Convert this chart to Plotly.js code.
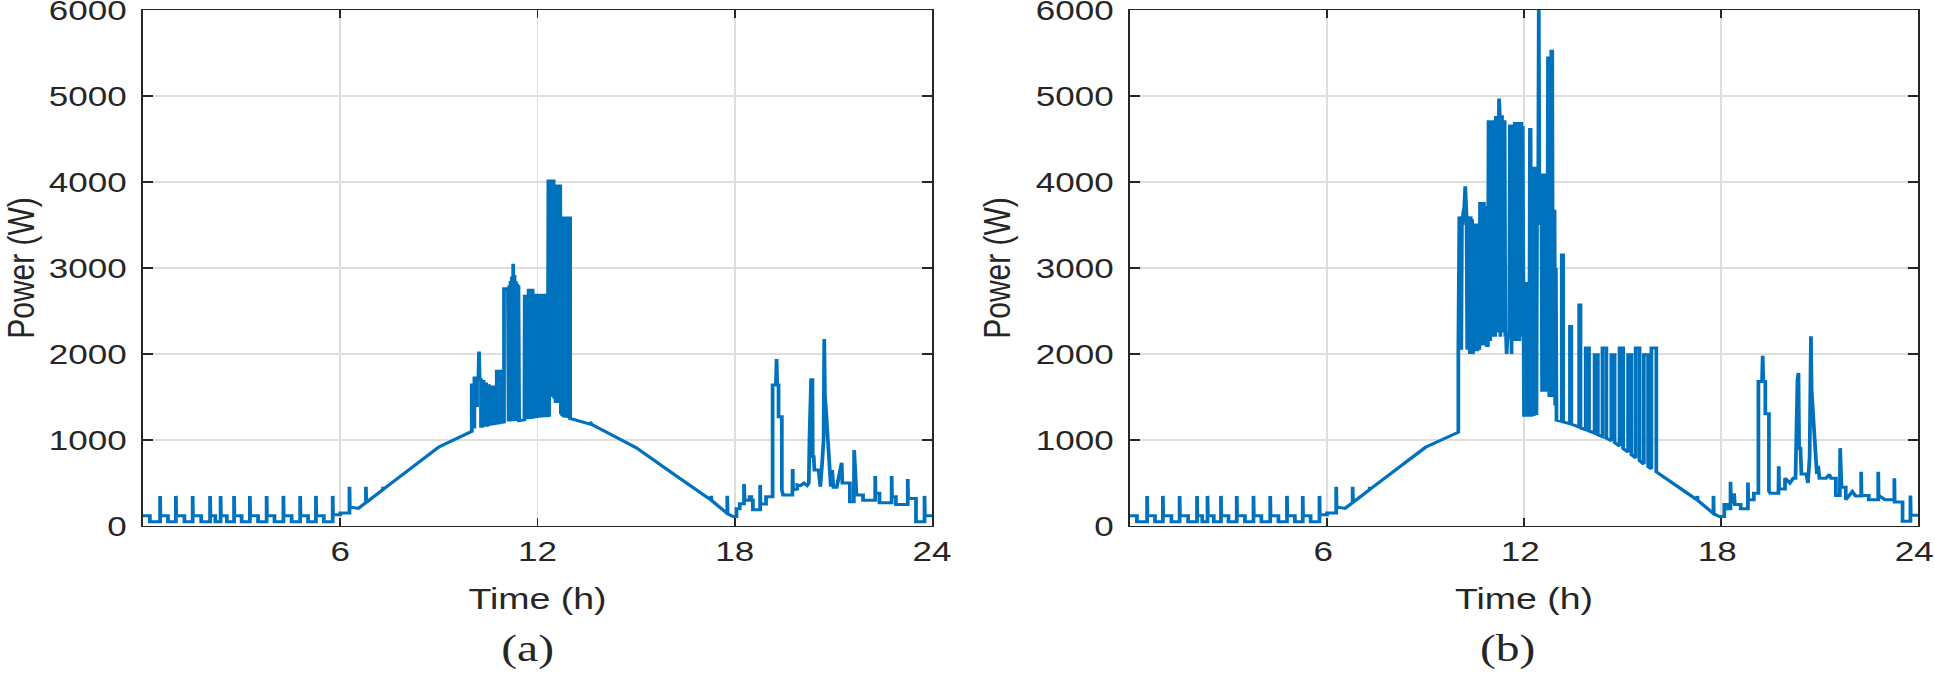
<!DOCTYPE html>
<html>
<head>
<meta charset="utf-8">
<script src="https://cdn.plot.ly/plotly-3.0.1.min.js"></script>
<style>
  html, body { margin: 0; padding: 0; background: #ffffff; overflow: hidden; }
  #chart { width: 1548px; height: 676px; transform: scaleX(1.25); transform-origin: 0 0; }
</style>
</head>
<body>
<div id="chart"></div>
<script>
// ---------------- data (time in hours, power in W) ----------------
const xTickVals = [6, 12, 18, 24];
const yTickVals = [0, 1000, 2000, 3000, 4000, 5000, 6000];
const panelCaptions = ["(a)", "(b)"];

// ----- panel (a) -----
const nightA = [[0,120],[0.21,120],[0.21,50],
  [0.52,50],[0.52,350],[0.53,120],[0.76,120],[0.76,50],
  [1.0,50],[1.0,350],[1.01,120],[1.26,120],[1.26,50],
  [1.51,50],[1.51,350],[1.52,120],[1.77,120],[1.77,50],
  [2.04,50],[2.04,350],[2.05,120],[2.2,120],[2.2,50],
  [2.36,50],[2.36,350],[2.37,120],[2.55,120],[2.55,50],
  [2.77,50],[2.77,350],[2.78,120],[3.0,120],[3.0,50],
  [3.25,50],[3.25,350],[3.26,120],[3.5,120],[3.5,50],
  [3.76,50],[3.76,350],[3.77,120],[4.0,120],[4.0,50],
  [4.27,50],[4.27,350],[4.28,120],[4.52,120],[4.52,50],
  [4.78,50],[4.78,350],[4.79,120],[5.02,120],[5.02,50],
  [5.26,50],[5.26,350],[5.27,120],[5.5,120],[5.5,50],
  [5.77,50],[5.77,350],[5.78,130],[6.0,130],[6.0,150],
  [6.28,150],[6.28,455],[6.29,220],[6.55,205]];
const morningA = [[6.78,272],[6.78,455],[6.79,275],[7.3,424],[7.3,455],[7.31,427],[9.0,920],[10.0,1100]];
const noonA = [[10.0,1640],[10.04,1640],[10.04,1150],[10.08,1150],[10.08,1720],[10.12,1720],[10.12,1400],
  [10.16,1400],[10.16,1700],[10.2,1700],[10.22,2030],[10.24,1700],[10.28,1700],[10.28,1160],[10.31,1160],
  [10.31,1680],[10.36,1680],[10.36,1170],[10.4,1170],[10.4,1650],[10.44,1650],[10.44,1170],[10.47,1170],
  [10.47,1630],[10.52,1630],[10.52,1180],[10.62,1185],[10.62,1615],[10.66,1615],[10.66,1190],[10.76,1195],
  [10.76,1800],[10.82,1800],[10.82,1200],[10.85,1200],[10.85,1800],[10.88,1800],[10.88,1205],[10.98,1210],
  [10.98,2760],[11.1,2760],[11.12,1215],[11.14,2800],[11.16,1215],[11.18,2850],[11.2,1218],[11.22,2900],
  [11.24,1218],[11.26,3050],[11.28,1220],[11.3,2920],[11.32,1220],[11.34,2850],[11.36,1222],[11.38,2820],
  [11.4,1222],[11.42,2800],[11.44,1225],[11.6,1235],
  [11.61,2690],[11.63,1240],[11.65,2690],[11.67,1240],[11.69,2690],[11.71,1242],[11.73,2760],[11.75,1245],
  [11.77,2760],[11.79,1245],[11.81,2760],[11.83,1248],[11.85,2760],[11.87,1250],[11.89,2700],[11.91,1252],
  [11.93,2700],[11.95,1255],[11.97,2700],[11.99,1258],[12.01,2700],[12.03,1260],[12.05,2700],[12.07,1262],
  [12.09,2700],[12.11,1262],[12.13,2700],[12.15,1264],[12.17,2700],[12.19,1265],[12.21,2700],[12.23,1265],
  [12.25,2700],[12.27,1265],[12.29,2700],[12.31,1268],[12.33,4030],[12.35,1270],[12.37,4030],[12.39,1500],
  [12.41,4030],[12.43,1500],[12.45,4030],[12.47,1500],[12.49,4030],[12.51,1480],[12.53,3970],[12.55,1430],
  [12.57,3970],[12.59,1430],[12.61,3970],[12.63,1430],[12.65,3970],[12.67,1430],[12.69,3970],[12.71,1300],
  [12.73,3550],[12.75,1280],[12.77,3600],[12.79,1265],[12.81,3600],[12.83,1262],[12.85,3600],[12.87,1260],
  [12.89,3600],[12.91,1258],[12.93,3600],[12.95,1256],[12.97,3600],[12.99,3600],[12.99,1250],[13.0,1250]];
const afternoonA = [[13.6,1185],[13.6,1210],[13.65,1180],[14.0,1110],[15.0,910],[16.0,640],[17.0,375],
  [17.28,300],[17.28,352],[17.29,298],[17.77,145],[17.77,352],[17.78,142],[17.95,110],[18.02,110]];
const eveningA = [[18.05,110],[18.05,200],[18.15,200],[18.15,260],[18.28,260],[18.28,488],[18.3,300],
  [18.45,300],[18.45,340],[18.5,340],[18.5,300],[18.55,300],[18.55,190],[18.77,190],[18.77,477],[18.78,256],
  [18.95,256],[18.95,340],[19.15,340],[19.15,1640],[19.25,1640],[19.27,1942],[19.29,1640],[19.33,1640],
  [19.33,1271],[19.43,1271],[19.43,419],[19.47,360],[19.75,360],[19.76,663],[19.77,420],[19.9,430],
  [19.9,480],[20.0,470],[20.1,500],[20.2,470],[20.25,500],[20.27,1000],[20.3,1650],[20.32,1700],[20.36,1700],
  [20.37,806],[20.4,806],[20.42,650],[20.55,650],[20.6,457],[20.65,700],[20.7,1000],[20.72,2175],[20.74,1523],
  [20.78,1310],[20.82,1080],[20.88,767],[20.92,457],[20.96,651],[21.0,450],[21.1,450],[21.25,736],[21.27,500],
  [21.5,500],[21.5,283],[21.62,283],[21.63,884],[21.67,574],[21.7,360],[21.9,360],[21.9,300],[22.27,300],
  [22.27,581],[22.28,380],[22.4,380],[22.4,270],[22.77,270],[22.77,581],[22.78,340],[22.9,340],[22.9,250],
  [23.26,250],[23.26,546],[23.27,320],[23.51,320],[23.51,50],[23.77,50],[23.77,350],[23.78,120],[24.0,120]];

// ----- panel (b) -----
const nightB = [[0,120],[0.21,120],[0.21,50],
  [0.52,50],[0.52,350],[0.53,120],[0.76,120],[0.76,50],
  [1.0,50],[1.0,350],[1.01,120],[1.26,120],[1.26,50],
  [1.51,50],[1.51,350],[1.52,120],[1.77,120],[1.77,50],
  [2.04,50],[2.04,350],[2.05,120],[2.2,120],[2.2,50],
  [2.36,50],[2.36,350],[2.37,120],[2.55,120],[2.55,50],
  [2.77,50],[2.77,350],[2.78,120],[3.0,120],[3.0,50],
  [3.25,50],[3.25,350],[3.26,120],[3.5,120],[3.5,50],
  [3.76,50],[3.76,350],[3.77,120],[4.0,120],[4.0,50],
  [4.27,50],[4.27,350],[4.28,120],[4.52,120],[4.52,50],
  [4.78,50],[4.78,350],[4.79,120],[5.02,120],[5.02,50],
  [5.26,50],[5.26,350],[5.27,120],[5.5,120],[5.5,50],
  [5.77,50],[5.77,350],[5.78,130],[6.0,130],[6.0,150],
  [6.28,150],[6.28,455],[6.29,220],[6.55,205]];
const morningB = [[6.78,272],[6.78,455],[6.79,275],[7.3,424],[7.3,455],[7.31,427],[9.0,915],[10.0,1090]];
const noonB = [[10.0,2030],[10.01,3560],[10.03,3600],[10.05,3300],[10.07,3600],[10.09,2050],[10.11,3600],
  [10.13,3500],[10.15,3650],[10.18,3700],[10.21,3950],[10.23,3650],[10.25,3600],[10.27,2050],[10.29,3600],
  [10.31,3550],[10.33,3600],[10.35,2000],[10.37,3600],[10.39,3550],[10.42,3550],[10.44,2000],[10.46,2050],
  [10.48,3500],[10.52,3500],[10.54,2050],[10.58,2050],[10.6,3500],[10.62,3500],[10.64,2050],[10.66,3750],
  [10.7,3750],[10.72,2100],[10.74,3750],[10.78,3750],[10.8,2100],[10.82,3700],[10.85,3700],[10.87,2100],
  [10.9,2100],[10.92,4700],[10.95,4700],[10.97,2150],[10.99,4700],[11.03,4700],[11.05,2200],[11.07,4700],
  [11.1,4700],[11.12,2200],[11.14,4750],[11.18,4750],[11.2,2250],[11.22,4850],[11.24,4970],[11.26,4800],
  [11.28,2200],[11.3,4760],[11.33,4760],[11.35,2250],[11.37,4700],[11.41,4700],[11.43,2200],[11.45,2250],
  [11.47,2000],[11.5,2200],[11.55,2200],[11.57,4650],[11.6,4650],[11.62,2000],[11.64,4650],[11.68,4650],
  [11.7,2150],[11.72,4680],[11.76,4680],[11.78,2150],[11.8,4680],[11.84,4680],[11.86,2150],[11.88,4680],
  [11.92,4680],[11.94,2200],[11.96,4650],[11.98,2200],[12.0,1270],[12.02,2820],[12.06,2820],[12.08,1270],
  [12.1,2820],[12.14,2820],[12.16,1270],[12.18,4610],[12.2,4610],[12.22,1270],[12.24,4160],[12.28,4160],
  [12.3,1280],[12.32,4160],[12.36,4160],[12.38,1290],[12.4,4100],[12.43,3500],[12.45,6000],[12.47,3500],
  [12.49,4080],[12.53,4080],[12.55,1560],[12.57,4080],[12.61,4080],[12.63,1560],[12.65,3440],[12.69,3440],
  [12.71,1560],[12.73,5460],[12.75,3600],[12.77,1500],[12.79,3600],[12.81,1500],[12.83,5520],[12.86,5520],
  [12.88,1500],[12.9,3660],[12.93,3660],[12.95,1400],[12.97,3000],[12.99,1230],[13.15,1215],[13.15,3150],
  [13.19,3150],[13.19,1210],[13.4,1190],[13.4,2320],[13.44,2320],[13.44,1185],[13.68,1150],[13.68,2570],
  [13.72,2570],[13.72,1140],[13.88,1120],[13.88,2070],[13.98,2070],[13.98,1105],[14.15,1080],[14.15,1990],
  [14.25,1990],[14.25,1060],[14.39,1040],[14.39,2070],[14.51,2070],[14.51,1020],[14.66,990],[14.66,1990],
  [14.76,1990],[14.76,970],[14.91,930],[14.91,2070],[15.02,2070],[15.02,900],[15.17,860],[15.17,1990],
  [15.27,1990],[15.27,830],[15.4,790],[15.4,2070],[15.52,2070],[15.52,760],[15.65,720],[15.65,1990],
  [15.78,1990],[15.78,690],[15.88,665],[15.88,2070],[16.03,2070],[16.03,630]];
const afternoonB = [[17.0,375],[17.28,300],[17.28,350],[17.29,298],[17.77,145],[17.77,350],[17.78,142],
  [17.95,110],[18.02,110]];
const eveningB = [[18.1,110],[18.1,250],[18.2,250],[18.2,200],[18.29,200],[18.29,515],[18.3,280],[18.4,280],
  [18.4,380],[18.42,250],[18.6,250],[18.6,200],[18.82,200],[18.82,505],[18.83,305],[19.0,305],[19.0,380],
  [19.14,380],[19.14,1680],[19.25,1680],[19.27,1980],[19.29,1680],[19.35,1680],[19.35,1305],[19.46,1305],
  [19.46,405],[19.5,380],[19.75,380],[19.76,695],[19.77,430],[19.95,430],[19.95,555],[20.1,500],[20.2,555],
  [20.27,555],[20.29,1030],[20.33,1700],[20.36,1780],[20.38,905],[20.42,905],[20.45,605],[20.6,605],
  [20.65,500],[20.7,800],[20.74,2205],[20.76,1580],[20.8,1355],[20.84,1105],[20.88,855],[20.92,605],
  [20.96,700],[21.0,555],[21.2,555],[21.3,600],[21.35,555],[21.5,555],[21.5,355],[21.62,355],[21.63,905],
  [21.67,450],[21.8,450],[21.8,305],[22.0,400],[22.1,350],[22.27,350],[22.27,630],[22.28,355],[22.5,355],
  [22.5,305],[22.79,305],[22.79,630],[22.8,355],[23.0,305],[23.28,305],[23.28,555],[23.29,280],[23.53,280],
  [23.53,55],[23.77,55],[23.77,355],[23.78,125],[24.0,125]];

// ---------------- build ----------------
const seriesA = [].concat(nightA, morningA, noonA, afternoonA, eveningA);
const seriesB = [].concat(nightB, morningB, noonB, afternoonB, eveningB);

const lineStyle = { color: '#0072BD', width: 3 };
const traces = [
  { x: seriesA.map(p => p[0]), y: seriesA.map(p => p[1]), xaxis: 'x', yaxis: 'y',
    type: 'scatter', mode: 'lines', line: lineStyle, showlegend: false, hoverinfo: 'skip' },
  { x: seriesB.map(p => p[0]), y: seriesB.map(p => p[1]), xaxis: 'x2', yaxis: 'y2',
    type: 'scatter', mode: 'lines', line: lineStyle, showlegend: false, hoverinfo: 'skip' }
];

const FONT = 'Liberation Sans, Arial, Helvetica, sans-serif';
const INK = '#262626';
function xAxis(domain, anchor, shift) {
  return {
    domain: domain, anchor: anchor, range: [0, 24], tickvals: xTickVals, ticktext: xTickVals.map(String),
    showgrid: true, gridcolor: '#dedede', gridwidth: 1.5, zeroline: false,
    showline: true, linecolor: INK, linewidth: 1.5, mirror: 'ticks',
    ticks: 'inside', ticklen: 8, tickwidth: 1.5, tickcolor: INK,
    tickfont: { family: FONT, size: 28, color: INK }, ticklabelstandoff: 0, ticklabeloverflow: 'allow',
    ticklabelshift: shift,
    title: { text: 'Time (h)', font: { family: FONT, size: 30, color: INK }, standoff: 22 },
    automargin: false
  };
}
function yAxis(domain, anchor) {
  return {
    domain: domain, anchor: anchor, range: [0, 6000], tickvals: yTickVals, ticktext: yTickVals.map(String),
    showgrid: true, gridcolor: '#dedede', gridwidth: 1.5, zeroline: false,
    showline: true, linecolor: INK, linewidth: 1.5, mirror: 'ticks',
    ticks: 'inside', ticklen: 8, tickwidth: 1.5, tickcolor: INK,
    tickfont: { family: FONT, size: 28, color: INK }, ticklabelstandoff: 6, ticklabeloverflow: 'allow',
    title: { text: 'Power (W)', font: { family: FONT, size: 30, color: INK }, standoff: 11 },
    automargin: false
  };
}

const yDom = [0.2219, 0.9852];
const layout = {
  width: 1548, height: 676,
  margin: { l: 0, r: 0, t: 0, b: 0, pad: 0 },
  paper_bgcolor: '#ffffff', plot_bgcolor: '#ffffff',
  showlegend: false,
  xaxis: xAxis([0.0739, 0.4817], 'y', 0),
  yaxis: yAxis(yDom, 'x'),
  xaxis2: xAxis([0.5840, 0.9912], 'y2', -3),
  yaxis2: yAxis(yDom, 'x2'),
  annotations: [
    { text: panelCaptions[0], xref: 'paper', yref: 'paper', x: 0.2729, y: 0.0414, xanchor: 'center', yanchor: 'middle',
      showarrow: false, font: { family: 'Liberation Serif, Times New Roman, serif', size: 38, color: INK } },
    { text: panelCaptions[1], xref: 'paper', yref: 'paper', x: 0.7788, y: 0.0414, xanchor: 'center', yanchor: 'middle',
      showarrow: false, font: { family: 'Liberation Serif, Times New Roman, serif', size: 38, color: INK } }
  ]
};

Plotly.newPlot('chart', traces, layout, { staticPlot: true, displayModeBar: false });
</script>
</body>
</html>
